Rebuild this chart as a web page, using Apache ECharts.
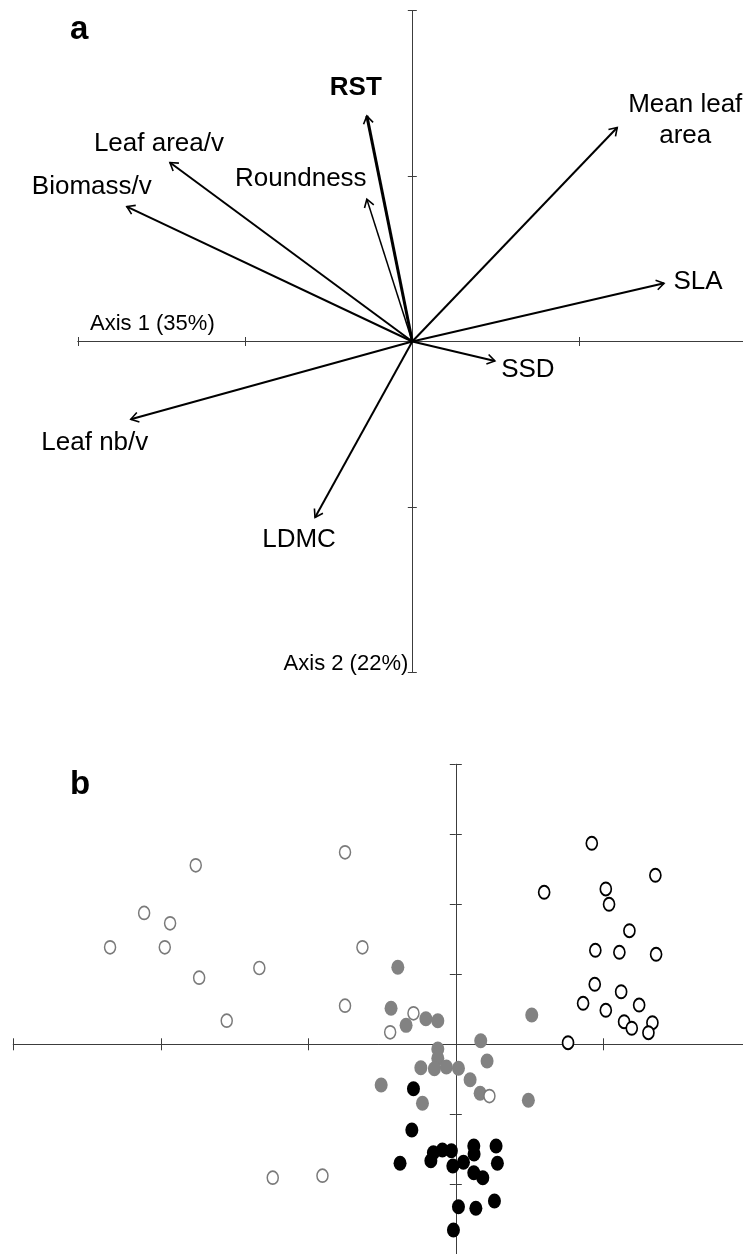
<!DOCTYPE html>
<html><head><meta charset="utf-8">
<script src="https://cdn.jsdelivr.net/npm/echarts@6/dist/echarts.min.js"></script>
<style>html,body{margin:0;padding:0;background:#fff}#c{width:743px;height:1254px}</style>
</head><body><div id="c"></div>
<script>
// ---------- Panel a: variable loadings on PCA axes 1 and 2 ----------
const varNames  = ['RST', 'Roundness', 'Leaf area/v', 'Biomass/v', 'Mean leaf\narea', 'SLA', 'SSD', 'Leaf nb/v', 'LDMC'];
const loadAxis1 = [-0.136, -0.136, -0.725, -0.854, 0.613, 0.753, 0.247, -0.842, -0.291];
const loadAxis2 = [ 0.682,  0.430,  0.541,  0.408, 0.647, 0.176, -0.059, -0.235, -0.532];
const axisTitles = ['Axis 1 (35%)', 'Axis 2 (22%)'];
const panelLetters = ['a', 'b'];

// ---------- Panel b: sample scores ----------
const openGrayX  = [-1.763, -0.751, -2.113, -1.937, -2.344, -1.973, -0.633, -1.332, -1.740, -1.553, -0.751, -0.287, -0.445, 0.228, -1.241, -0.904];
const openGrayY  = [ 2.557,  2.743,  1.876,  1.729,  1.386,  1.386,  1.386,  1.090,  0.951,  0.337,  0.551,  0.443,  0.171, -0.739, -1.906, -1.877];
const openBlackX = [0.922, 1.353, 0.599, 1.017, 1.039, 1.177, 0.946, 1.109, 1.358, 0.942, 1.121, 0.863, 1.243, 1.017, 1.141, 1.333, 1.193, 1.306, 0.761];
const openBlackY = [2.871, 2.414, 2.171, 2.219, 2.000, 1.623, 1.343, 1.314, 1.286, 0.857, 0.751, 0.586, 0.561, 0.486, 0.323, 0.309, 0.229, 0.166, 0.023];
const fillGrayX  = [-0.393, -0.439, -0.337, -0.203, -0.122, 0.515, 0.169, -0.122, -0.122, -0.237, -0.145, -0.064, 0.018, 0.212, 0.097, -0.506, 0.165, -0.226, 0.492];
const fillGrayY  = [ 1.100,  0.514,  0.271,  0.366,  0.337, 0.419, 0.051, -0.067, -0.200, -0.334, -0.349, -0.324, -0.343, -0.239, -0.506, -0.581, -0.700, -0.843, -0.800];
const fillBlackX = [-0.287, -0.298, -0.378, -0.152, -0.091, -0.030, -0.169, -0.020, 0.052, 0.122, 0.124, 0.273, 0.282, 0.122, 0.183, 0.018, 0.136, 0.262, -0.016];
const fillBlackY = [-0.634, -1.224, -1.700, -1.549, -1.510, -1.520, -1.663, -1.739, -1.686, -1.453, -1.567, -1.453, -1.700, -1.834, -1.906, -2.320, -2.343, -2.239, -2.653];

// ---------- styles ----------
const FONT = "'Liberation Sans', Arial, sans-serif";
const AXIS_COLOR = '#3c3c3c';
const arrowWidths = [3, 1.5, 2, 2, 2, 2, 2, 2, 2];
const arrowBold   = [true, false, false, false, false, false, false, false, false];
const labelOffsets = [[-11, -28], [-66, -20], [-11, -19], [-35, -20], [68, -7], [34, -1], [33, 9], [-36, 24], [-16, 22]];

const zip = (xs, ys) => xs.map((x, i) => [x, ys[i]]);

function axes(dim, gridIndex, min, max, interval, tickLen) {
  const base = {
    type: 'value', gridIndex, min, max, interval,
    axisLine: { show: true, onZero: true, lineStyle: { color: AXIS_COLOR, width: 1 } },
    axisLabel: { show: false }, splitLine: { show: false },
    position: dim === 'x' ? 'bottom' : 'left'
  };
  return [
    Object.assign({}, base, { axisTick: { show: true, inside: false, length: tickLen, lineStyle: { color: AXIS_COLOR, width: 1 } } }),
    Object.assign({}, base, { axisTick: { show: true, inside: true, length: tickLen, lineStyle: { color: AXIS_COLOR, width: 1 } } })
  ];
}

const chart = echarts.init(document.getElementById('c'), null, { renderer: 'canvas' });

const option = {
  animation: false,
  backgroundColor: '#fff',
  grid: [
    { left: 78, top: 10.7, width: 668.6, height: 661.6, containLabel: false, outerBoundsMode: 'none' },
    { left: 13.3, top: 764.3, width: 737.5, height: 490, containLabel: false, outerBoundsMode: 'none' }
  ],
  xAxis: [].concat(axes('x', 0, -1, 1, 0.5, 4.5), axes('x', 1, -3, 2, 1, 6)),
  yAxis: [].concat(axes('y', 0, -1, 1, 0.5, 4.5), axes('y', 1, -3, 4, 1, 6)),
  series: [
    {
      type: 'custom', xAxisIndex: 0, yAxisIndex: 0, clip: false,
      data: varNames.map((n, i) => [loadAxis1[i], loadAxis2[i], i]),
      renderItem: function (params, api) {
        const i = api.value(2);
        const o = api.coord([0, 0]);
        const t = api.coord([api.value(0), api.value(1)]);
        const ang = Math.atan2(t[1] - o[1], t[0] - o[0]);
        const L = 9, a = Math.PI / 5.5;
        const p1 = [t[0] - L * Math.cos(ang - a), t[1] - L * Math.sin(ang - a)];
        const p2 = [t[0] - L * Math.cos(ang + a), t[1] - L * Math.sin(ang + a)];
        const off = labelOffsets[i];
        return {
          type: 'group',
          children: [
            { type: 'line', shape: { x1: o[0], y1: o[1], x2: t[0], y2: t[1] }, style: { stroke: '#000', lineWidth: arrowWidths[i] } },
            { type: 'polyline', shape: { points: [p1, t, p2] }, style: { stroke: '#000', lineWidth: 1.6, fill: null } },
            { type: 'text', x: t[0] + off[0], y: t[1] + off[1],
              style: { text: varNames[i], fill: '#000', align: 'center', verticalAlign: 'middle',
                       font: (arrowBold[i] ? 'bold ' : '') + '26px ' + FONT, lineHeight: 31 } }
          ]
        };
      }
    },
    {
      type: 'scatter', xAxisIndex: 2, yAxisIndex: 2, name: 'filled gray',
      data: zip(fillGrayX, fillGrayY), symbol: 'circle', symbolSize: [13, 15],
      itemStyle: { color: '#828282', opacity: 1 }
    },
    {
      type: 'scatter', xAxisIndex: 2, yAxisIndex: 2, name: 'filled black',
      data: zip(fillBlackX, fillBlackY), symbol: 'circle', symbolSize: [13, 15],
      itemStyle: { color: '#000', opacity: 1 }
    },
    {
      type: 'scatter', xAxisIndex: 2, yAxisIndex: 2, name: 'open gray',
      data: zip(openGrayX, openGrayY), symbol: 'circle', symbolSize: [11, 13],
      itemStyle: { color: '#fff', borderColor: '#7a7a7a', borderWidth: 1.6, opacity: 1 }
    },
    {
      type: 'scatter', xAxisIndex: 2, yAxisIndex: 2, name: 'open black',
      data: zip(openBlackX, openBlackY), symbol: 'circle', symbolSize: [11, 13],
      itemStyle: { color: '#fff', borderColor: '#000', borderWidth: 1.8, opacity: 1 }
    }
  ]
};
chart.setOption(option);

// Axis titles and panel letters, anchored to the axes' pixel positions
const aLeft = chart.convertToPixel({ gridIndex: 0 }, [-1, 0]);
const aBottom = chart.convertToPixel({ gridIndex: 0 }, [0, -1]);
const aTop = chart.convertToPixel({ gridIndex: 0 }, [0, 1]);
const bTop = chart.convertToPixel({ gridIndex: 1 }, [0, 4]);
chart.setOption({
  graphic: [
    { type: 'text', x: aLeft[0] + 12, y: aLeft[1] - 18,
      style: { text: axisTitles[0], font: '22px ' + FONT, fill: '#000', align: 'left', verticalAlign: 'middle' } },
    { type: 'text', x: aBottom[0] - 4, y: aBottom[1] - 8,
      style: { text: axisTitles[1], font: '22px ' + FONT, fill: '#000', align: 'right', verticalAlign: 'middle' } },
    { type: 'text', x: 70, y: aTop[1] + 19,
      style: { text: panelLetters[0], font: 'bold 33px ' + FONT, fill: '#000', align: 'left', verticalAlign: 'middle' } },
    { type: 'text', x: 70, y: bTop[1] + 21,
      style: { text: panelLetters[1], font: 'bold 33px ' + FONT, fill: '#000', align: 'left', verticalAlign: 'middle' } }
  ]
});
</script>
</body></html>
